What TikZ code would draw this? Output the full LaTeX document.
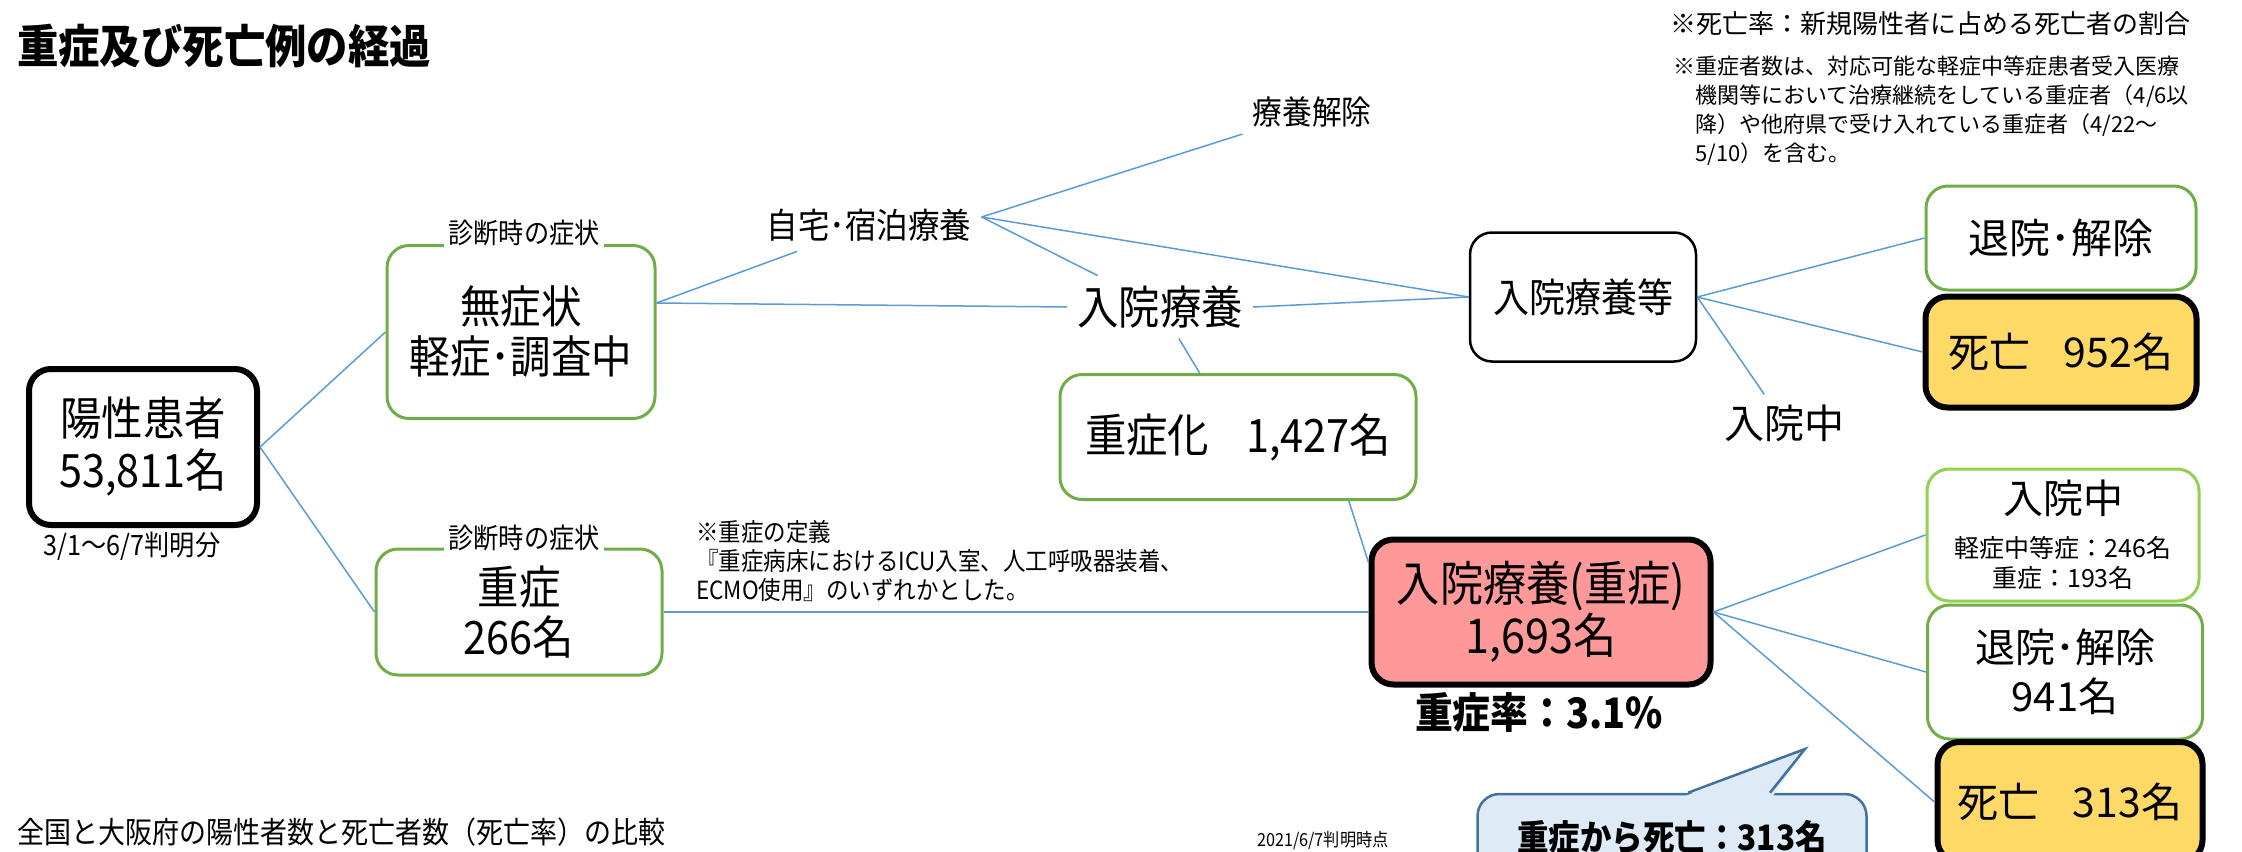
\documentclass[tikz,border=0pt]{standalone}
\usepackage{fontspec}
\setmainfont{Noto Sans CJK JP}
\newfontfamily\slim{Noto Sans CJK JP}[FakeStretch=0.9]
\newfontfamily\heavy{Noto Sans CJK JP Black}[FakeStretch=0.9]
\usetikzlibrary{calc,positioning}
\definecolor{leaf}{HTML}{70AD47}
\definecolor{lime}{HTML}{92D050}
\definecolor{wire}{HTML}{5B9BD5}
\definecolor{gold}{HTML}{FFD966}
\definecolor{rose}{HTML}{FF9999}
\definecolor{mist}{HTML}{DEEBF7}
\definecolor{steel}{HTML}{41719C}
\newcommand{\fsz}[2]{\fontsize{#1}{#2}\selectfont}
\tikzset{greenbox/.style={draw=leaf,line width=3pt,rounded corners=22pt,fill=white,align=center}, blackbox/.style={draw=black,line width=6pt,rounded corners=22pt,align=center}, deathbox/.style={blackbox,fill=gold}, link/.style={draw=wire,line width=1.5pt}, txt/.style={inner sep=10pt,align=center}, tag/.style={fill=white,inner sep=4pt,font=\slim\fsz{28}{32}}, memo/.style={anchor=west,inner sep=0pt,align=left}}

\begin{document}
\begin{tikzpicture}[x=1pt,y=-1pt]
\useasboundingbox (0,0) rectangle (2242,851);
\node[memo,font=\heavy\fsz{46}{52}] (title) at (17,46) {重症及び死亡例の経過};
\node[memo,font=\fsz{26}{30}] (note1) at (1670,24) {※死亡率：新規陽性者に占める死亡者の割合};
\node[memo,font=\fsz{22}{29}] (note2) at (1673,111) {※重症者数は、対応可能な軽症中等症患者受入医療\\\hspace*{1em}機関等において治療継続をしている重症者（4/6以\\\hspace*{1em}降）や他府県で受け入れている重症者（4/22～\\\hspace*{1em}5/10）を含む。};
\node[blackbox,minimum width=228pt,minimum height=156pt,font=\slim\fsz{46}{52}] (yousei) at (143,447) {陽性患者\\53,811名};
\node[font=\slim\fsz{28}{32}] (period) at (132,546) {3/1～6/7判明分};
\node[greenbox,minimum width=268pt,minimum height=173pt,font=\slim\fsz{45}{50}] (mushou) at (521,332) {無症状\\軽症･調査中};
\node[tag] (diag1) at (524,233) {診断時の症状};
\node[greenbox,minimum width=286pt,minimum height=126pt,font=\slim\fsz{46}{50}] (juushou) at (519,612) {重症\\266名};
\node[tag] (diag2) at (524,538) {診断時の症状};
\node[memo,font=\slim\fsz{25}{29}] (teigi) at (696,561) {※重症の定義\\『重症病床におけるICU入室、人工呼吸器装着、\\ECMO使用』のいずれかとした。};
\node[txt,font=\slim\fsz{35}{40}] (jitaku) at (869,225) {自宅･宿泊療養};
\node[txt,font=\slim\fsz{33}{38}] (ryoukai) at (1312,112) {療養解除};
\node[txt,font=\slim\fsz{46}{52}] (nyuin) at (1160,307) {入院療養};
\node[draw,line width=2.5pt,rounded corners=22pt,minimum width=226pt,minimum height=129pt,font=\slim\fsz{40}{46}] (nyuinto) at (1583,297) {入院療養等};
\node[greenbox,minimum width=270pt,minimum height=104pt,font=\fsz{41}{48}] (taiin1) at (2061,238) {退院･解除};
\node[deathbox,minimum width=271pt,minimum height=111pt,font=\fsz{41}{46}] (shibou1) at (2061,352) {死亡\hspace{0.8em}952名};
\node[txt,font=\fsz{40}{48}] (nyuinchu) at (1784,423) {入院中};
\node[greenbox,minimum width=356pt,minimum height=125pt,font=\slim\fsz{46}{50}] (juushouka) at (1238,437) {重症化\hspace{0.8em}1,427名};
\node[blackbox,fill=rose,minimum width=339pt,minimum height=145pt,font=\slim\fsz{48}{52}] (nyuinjuu) at (1541,612) {入院療養(重症)\\1,693名};
\node[font=\slim\bfseries\fsz{42}{48}] (rate) at (1539,712) {重症率：3.1\%};
\node[greenbox,draw=lime,minimum width=272pt,minimum height=132pt,font=\fsz{40}{44}] (nyuinchu2) at (2063,535) {入院中\\{\fsz{25}{30}軽症中等症：246名}\\[-14pt]{\fsz{25}{30}重症：193名}};
\node[greenbox,minimum width=275pt,minimum height=134pt,font=\fsz{40}{49}] (taiin2) at (2065,672) {退院･解除\\941名};
\node[deathbox,minimum width=265pt,minimum height=120pt,font=\fsz{41}{46}] (shibou2) at (2070,802) {死亡\hspace{0.8em}313名};
\node[draw=steel,fill=mist,line width=2.5pt,rounded corners=22pt,minimum width=389pt,minimum height=86pt,font=\slim\bfseries\fsz{35}{40}] (callout) at (1672,837) {重症から死亡：313名};
\coordinate (tip) at (1805,749);
\fill[mist] ($(callout.north)+(14,3)$) -- (tip) -- ($(callout.north)+(101,3)$) -- cycle;
\draw[steel,line width=2.5pt] ($(callout.north)+(16,0)$) -- (tip) -- ($(callout.north)+(98,0)$);
\node[memo,font=\slim\fsz{30}{34}] (hikaku) at (17,832) {全国と大阪府の陽性者数と死亡者数（死亡率）の比較};
\node[font=\slim\fsz{18}{20}] (jiten) at (1323,841) {2021/6/7判明時点};
\draw[link] (yousei.east) -- (mushou.west);
\draw[link] (yousei.east) -- (juushou.west);
\coordinate (mushouR) at ($(mushou.east)+(0,-29)$);
\draw[link] (mushouR) -- (jitaku);
\draw[link] (mushouR) -- (nyuin.west);
\coordinate (jitakuR) at ($(jitaku.east)+(0,-8)$);
\draw[link] (jitakuR) -- (ryoukai);
\draw[link] (jitakuR) -- (nyuin);
\draw[link] (jitakuR) -- (nyuinto.west);
\draw[link] (nyuin.east) -- (nyuinto.west);
\draw[link] (nyuin) -- (juushouka);
\draw[link] (juushouka.-30) -- (nyuinjuu.164);
\draw[link] (juushou.east) -- (nyuinjuu.west);
\draw[link] (nyuinto.east) -- (taiin1.west);
\draw[link] (nyuinto.east) -- (shibou1.west);
\draw[link] (nyuinto.east) -- (nyuinchu);
\draw[link] (nyuinjuu.east) -- (nyuinchu2.west);
\draw[link] (nyuinjuu.east) -- (taiin2.west);
\draw[link] (nyuinjuu.east) -- (shibou2.west);
\end{tikzpicture}
\end{document}
